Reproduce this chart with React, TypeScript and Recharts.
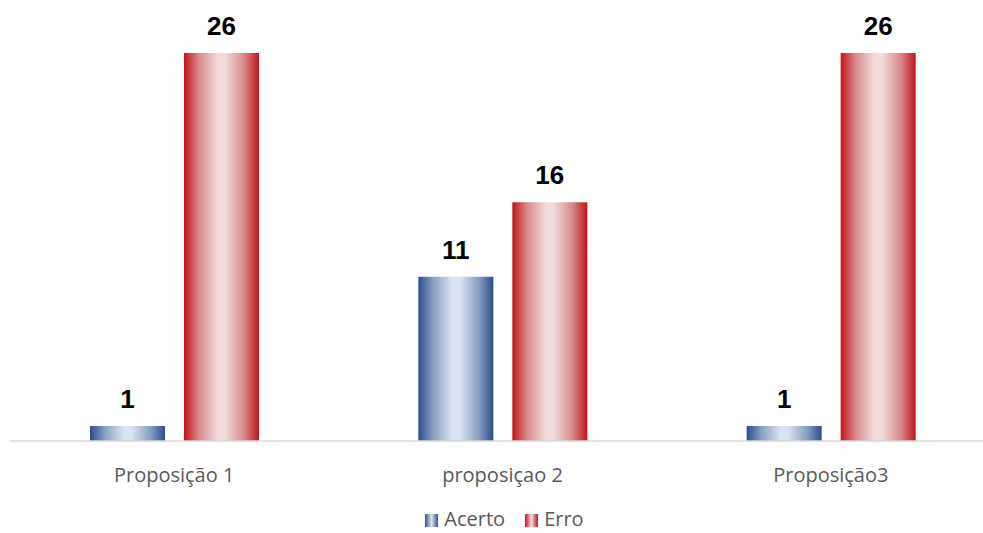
import React from 'react'
import { BarChart, Bar, XAxis, YAxis, Legend, LabelList } from 'recharts'

const categories = ['Proposição 1', 'proposiçao 2', 'Proposição3']
const acerto = [1, 11, 1]
const erro = [26, 16, 26]

const data = categories.map((name, i) => ({ name, Acerto: acerto[i], Erro: erro[i] }))

const seriesColors: Record<string, string> = { Acerto: 'url(#gradBlue)', Erro: 'url(#gradRed)' }
const iconBg: Record<string, string> = {
  Acerto: 'linear-gradient(to right, #2F528F, #DAE3F3 50%, #2F528F)',
  Erro: 'linear-gradient(to right, #C0141A, #F2DCDC 50%, #C0141A)',
}

const renderLegend = (props: any) => {
  const { payload } = props
  return (
    <div style={{ textAlign: 'center', paddingTop: 6, paddingLeft: 4, lineHeight: '20px' }}>
      {payload.map((entry: any, i: number) => (
        <span key={entry.value} style={{ display: 'inline-block', marginRight: i === 0 ? 20 : 0 }}>
          <span
            style={{
              display: 'inline-block',
              width: 13,
              height: 13,
              background: iconBg[entry.value],
              marginRight: 6,
              verticalAlign: -1,
            }}
          />
          <span style={{ fontFamily: '"Open Sans", sans-serif', fontSize: 20, color: '#595959' }}>{entry.value}</span>
        </span>
      ))}
    </div>
  )
}

export default function App() {
  return (
    <div style={{ position: 'absolute', left: 0, top: 0, width: 983, height: 533, overflow: 'hidden', background: '#fff' }}>
      <BarChart
        width={1000}
        height={533}
        data={data}
        margin={{ top: 53, right: 5, left: 10, bottom: 12 }}
        barSize={75}
        barGap={19}
      >
        <defs>
          <linearGradient id="gradBlue" x1="0" y1="0" x2="1" y2="0">
            <stop offset="0%" stopColor="#2C4F8A" />
            <stop offset="20%" stopColor="#8A9FC2" />
            <stop offset="45%" stopColor="#DAE3F3" />
            <stop offset="55%" stopColor="#DAE3F3" />
            <stop offset="80%" stopColor="#8A9FC2" />
            <stop offset="100%" stopColor="#2C4F8A" />
          </linearGradient>
          <linearGradient id="gradRed" x1="0" y1="0" x2="1" y2="0">
            <stop offset="0%" stopColor="#C0141A" />
            <stop offset="20%" stopColor="#D9898B" />
            <stop offset="45%" stopColor="#F2DCDC" />
            <stop offset="55%" stopColor="#F2DCDC" />
            <stop offset="80%" stopColor="#D9898B" />
            <stop offset="100%" stopColor="#C0141A" />
          </linearGradient>
        </defs>
        <XAxis
          dataKey="name"
          height={50}
          axisLine={{ stroke: '#D9D9D9', strokeWidth: 1.5 }}
          tickLine={false}
          tickSize={6}
          tickMargin={21}
          tick={{ fill: '#595959', fontSize: 20, fontFamily: '"Open Sans", sans-serif' }}
        />
        <YAxis hide domain={[0, 26]} />
        <Legend verticalAlign="bottom" height={30} wrapperStyle={{ bottom: 0 }} content={renderLegend} />
        {['Acerto', 'Erro'].map((key) => (
          <Bar key={key} dataKey={key} fill={seriesColors[key]} isAnimationActive={false}>
            <LabelList
              dataKey={key}
              position="top"
              offset={18}
              style={{ fill: '#000', fontSize: 26, fontWeight: 700, fontFamily: '"Liberation Sans", Arial, sans-serif' }}
            />
          </Bar>
        ))}
      </BarChart>
    </div>
  )
}
